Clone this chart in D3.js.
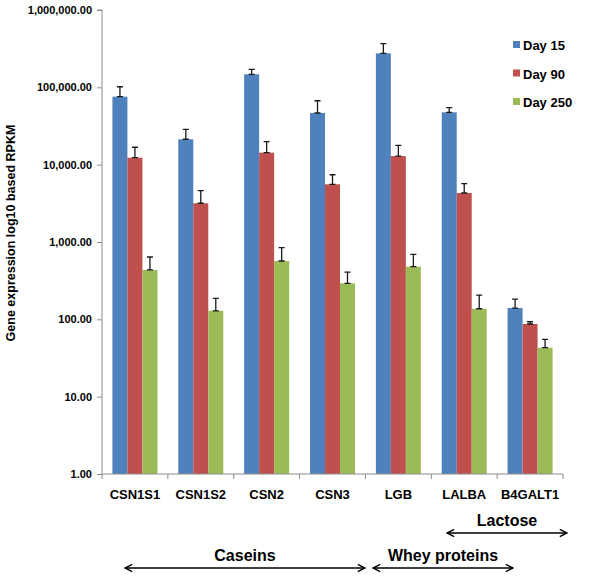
<!DOCTYPE html>
<html><head><meta charset="utf-8">
<script src="https://cdn.jsdelivr.net/npm/d3@7/dist/d3.min.js"></script>
<style>body{margin:0;background:#fff}svg{display:block;font-family:"Liberation Sans",Arial,sans-serif}</style>
</head><body>
<svg id="chart" width="600" height="584"></svg>
<script>
const categories = ["CSN1S1","CSN1S2","CSN2","CSN3","LGB","LALBA","B4GALT1"];
const seriesNames = ["Day 15","Day 90","Day 250"];
const day15 = [75700, 21300, 147500, 46600, 275000, 47500, 140];
const day90 = [12300, 3170, 14300, 5570, 12900, 4300, 87];
const day250 = [435, 129, 568, 292, 480, 137, 43];
const err15 = [26000, 7300, 23500, 20500, 92000, 7100, 43];
const err90 = [4500, 1450, 5500, 1840, 4900, 1380, 6];
const err250 = [205, 58, 277, 117, 213, 68, 12];
const tickValues = [1, 10, 100, 1000, 10000, 100000, 1000000];
const tickLabels = ["1.00","10.00","100.00","1,000.00","10,000.00","100,000.00","1,000,000.00"];
const colors = ["#4F81BD","#C0504D","#9BBB59"];
const groups = [
  {label:"Lactose", from:447, to:567, y:533},
  {label:"Caseins", from:125, to:365, y:568},
  {label:"Whey proteins", from:373, to:513, y:568}
];

(function(){
const svg = d3.select("#chart");
const pLeft = 102, pRight = 563, pTop = 10, pBottom = 474;
const y = d3.scaleLog().domain([1, 1e6]).range([pBottom, pTop]);
const x = d3.scaleBand().domain(categories).range([pLeft, pRight]).paddingInner(0).paddingOuter(0);
const x1 = d3.scaleBand().domain(seriesNames).range([0, x.bandwidth()]).paddingInner(0).paddingOuter(0.695);

const values = [day15, day90, day250];
const errs = [err15, err90, err250];

// y axis
const yAxis = d3.axisLeft(y).tickValues(tickValues).tickSize(5).tickFormat((d,i)=>tickLabels[i]);
const gy = svg.append("g").attr("transform",`translate(${pLeft},0)`).call(yAxis);
gy.select(".domain").attr("stroke","#8c8c8c").attr("d",`M-5,${pTop}H0V${pBottom}`);
gy.selectAll(".tick line").attr("stroke","#8c8c8c");
gy.selectAll(".tick text").attr("fill","#000").attr("font-size","11px").attr("font-weight","bold")
  .attr("font-family","'Liberation Sans',Arial,sans-serif").attr("x",-10);

// bars
seriesNames.forEach((s, si) => {
  const g = svg.append("g");
  g.selectAll("rect").data(categories).join("rect")
    .attr("x", c => x(c) + x1(s))
    .attr("width", x1.bandwidth())
    .attr("y", (c,i) => y(values[si][i]))
    .attr("height", (c,i) => pBottom - y(values[si][i]))
    .attr("fill", colors[si]);
  categories.forEach((c,i) => {
    const cx = x(c) + x1(s) + x1.bandwidth()/2;
    const y0 = y(values[si][i]), y1 = y(values[si][i] + errs[si][i]);
    g.append("path").attr("d",`M${cx},${y0}V${y1}M${cx-3},${y1}H${cx+3}M${cx-3},${y0}H${cx+3}`)
      .attr("stroke","#1a1a1a").attr("stroke-width",1.3).attr("fill","none");
  });
});

// x axis
const xAxis = d3.axisBottom(x).tickSize(0);
const gx = svg.append("g").attr("transform",`translate(0,${pBottom})`).call(xAxis);
gx.select(".domain").attr("stroke","#8c8c8c").attr("d",`M${pLeft},0H${pRight}`);
gx.selectAll(".tick text").attr("fill","#000").attr("font-size","13px").attr("font-weight","bold")
  .attr("font-family","'Liberation Sans',Arial,sans-serif").attr("dy","0").attr("y",25);
const bounds = [...categories.map(c => x(c)), pRight];
gx.selectAll(".sep").data(bounds).join("line").attr("class","sep")
  .attr("x1",d=>d).attr("x2",d=>d).attr("y1",0).attr("y2",5).attr("stroke","#8c8c8c");

// y title
svg.append("text").attr("transform","translate(15,233) rotate(-90)").attr("text-anchor","middle")
  .attr("font-size","12.5px").attr("font-weight","bold").text("Gene expression log10 based RPKM");

// legend
const leg = svg.append("g");
seriesNames.forEach((s,i) => {
  const ly = 45 + i*28.5;
  leg.append("rect").attr("x",513).attr("y",ly-4).attr("width",7).attr("height",7).attr("fill",colors[i]);
  leg.append("text").attr("x",523).attr("y",ly+5).attr("font-size","13px").attr("font-weight","bold").text(s);
});

// group arrows
svg.append("defs").append("marker").attr("id","ah").attr("viewBox","0 0 10 10").attr("refX",9).attr("refY",5)
  .attr("markerWidth",9).attr("markerHeight",9).attr("orient","auto-start-reverse").attr("markerUnits","userSpaceOnUse")
  .append("path").attr("d","M1,1L9,5L1,9").attr("fill","none").attr("stroke","#000").attr("stroke-width",1.6);
groups.forEach(g => {
  svg.append("line").attr("x1",g.from).attr("x2",g.to).attr("y1",g.y).attr("y2",g.y)
    .attr("stroke","#000").attr("stroke-width",1.5).attr("marker-start","url(#ah)").attr("marker-end","url(#ah)");
  svg.append("text").attr("x",(g.from+g.to)/2).attr("y",g.y-7).attr("text-anchor","middle")
    .attr("font-size","16px").attr("font-weight","bold").text(g.label);
});
})();
</script>
</body></html>
